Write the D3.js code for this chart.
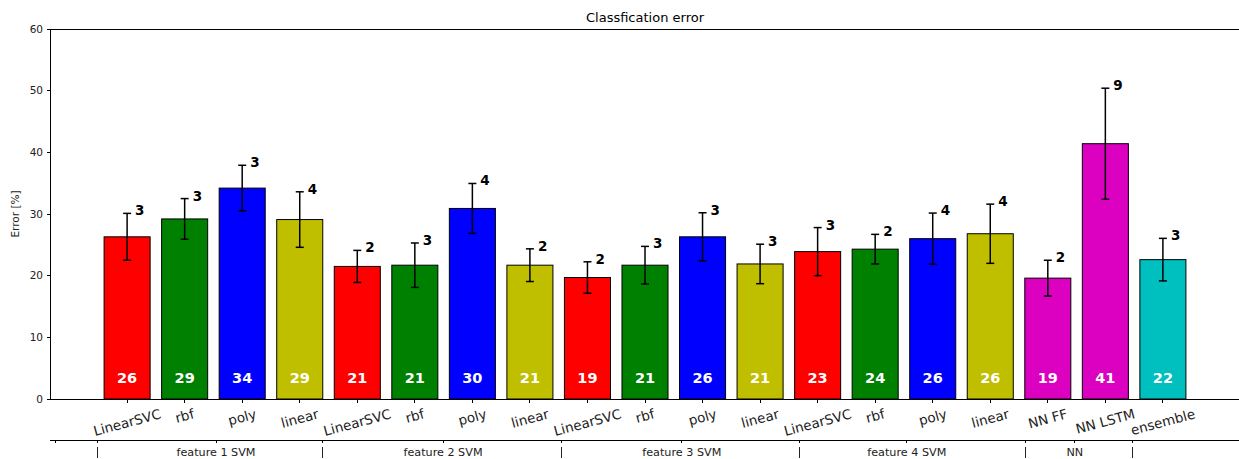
<!DOCTYPE html>
<html>
<head>
<meta charset="utf-8">
<script src="https://cdn.jsdelivr.net/npm/d3@7"></script>
<style>
  html, body { margin: 0; padding: 0; background: #fff; }
  svg { display: block; font-family: "DejaVu Sans", sans-serif; }
</style>
</head>
<body>
<svg id="chart" width="1239" height="459"></svg>
<script>
// ---------------- data ----------------
const categories = ["LinearSVC","rbf","poly","linear",
                    "LinearSVC","rbf","poly","linear",
                    "LinearSVC","rbf","poly","linear",
                    "LinearSVC","rbf","poly","linear",
                    "NN FF","NN LSTM","ensemble"];
const meanError = [26.3, 29.2, 34.2, 29.1,
                   21.5, 21.7, 30.9, 21.7,
                   19.7, 21.7, 26.3, 21.9,
                   23.9, 24.3, 26.0, 26.8,
                   19.6, 41.4, 22.6];
const stdError  = [3.8, 3.3, 3.7, 4.5,
                   2.6, 3.6, 4.05, 2.65,
                   2.55, 3.05, 3.9, 3.2,
                   3.9, 2.4, 4.15, 4.8,
                   2.9, 9.0, 3.45];
const barColors = ["#ff0000","#008000","#0000ff","#bfbf00",
                   "#ff0000","#008000","#0000ff","#bfbf00",
                   "#ff0000","#008000","#0000ff","#bfbf00",
                   "#ff0000","#008000","#0000ff","#bfbf00",
                   "#dc00c0","#dc00c0","#00bfbf"];
const yTicks = [0, 10, 20, 30, 40, 50, 60];
const groupLabels = ["feature 1 SVM","feature 2 SVM","feature 3 SVM","feature 4 SVM","NN"];
const groupCenters = [1.545, 5.49, 9.64, 13.55, 16.47];
const groupSeparators = [-0.52, 3.40, 7.55, 11.68, 15.62, 17.47];
const groupExtraTicks = [-1.25];
const titleText = "Classfication error";
const yLabelText = "Error [%]";

// ---------------- layout ----------------
const svg = d3.select("#chart");
const mLeft = 50, mRight = 1240, mTop = 29, mBottom = 399;
const x = d3.scaleLinear().domain([-1.34, 19.34]).range([mLeft, mRight]);
const y = d3.scaleLinear().domain([0, 60]).range([mBottom, mTop]);
const barW = x(0.8) - x(0);
const idx = d3.range(categories.length);

// bars
svg.append("g").selectAll("rect").data(idx).join("rect")
  .attr("x", i => x(i) - barW / 2)
  .attr("y", i => y(meanError[i]))
  .attr("width", barW)
  .attr("height", i => y(0) - y(meanError[i]))
  .attr("fill", i => barColors[i])
  .attr("stroke", "#000")
  .attr("stroke-width", 1);

// error bars
const eb = svg.append("g").attr("stroke", "#000").attr("stroke-width", 1.5);
idx.forEach(i => {
  const cx = x(i), y1 = y(meanError[i] + stdError[i]), y0 = y(meanError[i] - stdError[i]);
  eb.append("line").attr("x1", cx).attr("x2", cx).attr("y1", y1).attr("y2", y0);
  eb.append("line").attr("x1", cx - 4).attr("x2", cx + 4).attr("y1", y1).attr("y2", y1);
  eb.append("line").attr("x1", cx - 4).attr("x2", cx + 4).attr("y1", y0).attr("y2", y0);
});

// error labels
svg.append("g").selectAll("text").data(idx).join("text")
  .attr("x", i => x(i) + 8)
  .attr("y", i => y(meanError[i] + stdError[i]) + 2)
  .attr("font-size", 13.5).attr("font-weight", "bold").attr("fill", "#000")
  .text(i => Math.floor(stdError[i]));

// value labels inside bars
svg.append("g").selectAll("text").data(idx).join("text")
  .attr("x", i => x(i))
  .attr("y", y(0) - 16)
  .attr("text-anchor", "middle")
  .attr("font-size", 14.5).attr("font-weight", "bold").attr("fill", "#fff")
  .text(i => Math.floor(meanError[i]));

// spines
const sp = svg.append("g").attr("stroke", "#000").attr("stroke-width", 1).attr("shape-rendering", "crispEdges");
sp.append("line").attr("x1", mLeft).attr("x2", mRight).attr("y1", mTop).attr("y2", mTop);
sp.append("line").attr("x1", mLeft).attr("x2", mRight).attr("y1", mBottom).attr("y2", mBottom);
sp.append("line").attr("x1", mLeft).attr("x2", mLeft).attr("y1", mTop).attr("y2", mBottom);

// y axis ticks
const ya = svg.append("g");
yTicks.forEach(t => {
  ya.append("line").attr("x1", mLeft - 3.5).attr("x2", mLeft).attr("y1", y(t)).attr("y2", y(t))
    .attr("stroke", "#000").attr("shape-rendering", "crispEdges");
  ya.append("text").attr("x", mLeft - 7).attr("y", y(t)).attr("dy", "0.35em")
    .attr("text-anchor", "end").attr("font-size", 10.5).attr("fill", "#222").text(t);
});

// x ticks + rotated labels
const xa = svg.append("g");
const fs = 13.5, theta = 15 * Math.PI / 180;
idx.forEach(i => {
  const cx = x(i);
  xa.append("line").attr("x1", cx).attr("x2", cx).attr("y1", mBottom).attr("y2", mBottom + 3.5)
    .attr("stroke", "#000").attr("shape-rendering", "crispEdges");
  const t = xa.append("text").attr("font-size", fs).attr("fill", "#222")
    .attr("text-anchor", "middle").text(categories[i]);
  const w = t.node().getComputedTextLength();
  const h = fs * 1.164;
  const H = w * Math.sin(theta) + h * Math.cos(theta);
  const cy = mBottom + 7 + H / 2;
  t.attr("x", 0).attr("y", 0.346 * fs)
   .attr("transform", `translate(${cx},${cy}) rotate(-15)`);
});

// secondary (group) axis
const ga = svg.append("g");
const gy = 440;
ga.append("line").attr("x1", mLeft).attr("x2", mRight).attr("y1", gy).attr("y2", gy)
  .attr("stroke", "#000").attr("shape-rendering", "crispEdges");
groupCenters.concat(groupSeparators, groupExtraTicks).forEach(p => {
  ga.append("line").attr("x1", x(p)).attr("x2", x(p)).attr("y1", gy).attr("y2", gy + 3)
    .attr("stroke", "#000").attr("shape-rendering", "crispEdges");
});
groupSeparators.forEach(p => {
  ga.append("line").attr("x1", x(p)).attr("x2", x(p)).attr("y1", 447).attr("y2", 458)
    .attr("stroke", "#222").attr("stroke-width", 1).attr("shape-rendering", "crispEdges");
});
groupLabels.forEach((g, k) => {
  ga.append("text").attr("x", x(groupCenters[k])).attr("y", 455.5)
    .attr("text-anchor", "middle").attr("font-size", 11.2).attr("fill", "#222").text(g);
});

// title and y label
svg.append("text").attr("x", (mLeft + mRight) / 2).attr("y", 22)
  .attr("text-anchor", "middle").attr("font-size", 13).attr("fill", "#000").text(titleText);
svg.append("text").attr("transform", `translate(19,${(mTop + mBottom) / 2}) rotate(-90)`)
  .attr("text-anchor", "middle").attr("font-size", 10.5).attr("fill", "#222").text(yLabelText);
</script>
</body>
</html>
